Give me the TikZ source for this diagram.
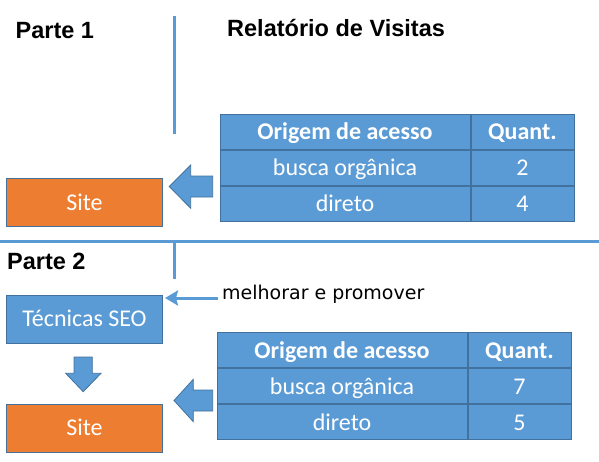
\documentclass[tikz,border=0pt]{standalone}
\usepackage{fontspec}
\setmainfont{Carlito}
\newfontfamily\titlefont{Liberation Sans}
\newfontfamily\notefont{DejaVu Sans}
\usetikzlibrary{arrows.meta}
\definecolor{cblue}{HTML}{5B9BD5}
\definecolor{cedge}{HTML}{41719C}
\definecolor{corange}{HTML}{ED7D31}
\tikzset{
  cellbox/.style={draw=cedge, line width=1pt, fill=cblue, inner sep=0pt, minimum height=35pt,
    text height=15.5pt, text depth=0pt,
    text=white, font=\fontsize{24}{28}\selectfont},
  headcell/.style={cellbox, font=\fontsize{24}{28}\selectfont\bfseries},
  wide/.style={minimum width=250pt},
  narrow/.style={minimum width=103pt},
  bluebox/.style={draw=cedge, line width=1pt, fill=cblue, inner sep=0pt, minimum width=155.5pt,
    minimum height=48pt, text height=15pt, text depth=0pt,
    text=white, font=\fontsize{24}{28}\selectfont},
  orangebox/.style={bluebox, fill=corange},
  title/.style={inner sep=0pt, anchor=west, font=\titlefont\bfseries\fontsize{23.5}{28}\selectfont},
  rule/.style={draw=cblue, line width=3pt},
  blockarrow/.style={draw=cedge, line width=0.8pt, fill=cblue},
}
\begin{document}
\begin{tikzpicture}[x=1pt,y=-1pt]
\useasboundingbox (0,0) rectangle (599,461);

% titles
\node[title] (p1) at (15.5,31) {Parte 1};
\node[title] (rel) at (227,28) {Relatório de Visitas};
\node[title] (p2) at (7,261) {Parte 2};

% rules
\coordinate (v1a) at (174.5,16);
\coordinate (v1b) at (174.5,134);
\coordinate (hl) at (0,241.5);
\coordinate (hr) at (599,241.5);
\coordinate (v2a) at (174.5,241.5);
\coordinate (v2b) at (174.5,279);
\draw[rule] (v1a) -- (v1b);
\draw[rule] (hl) -- (hr);
\draw[rule] (v2a) -- (v2b);

% top table
\node[headcell, wide, anchor=north west] (t1h1) at (219.5,114) {Origem de acesso};
\node[headcell, narrow, anchor=north west] (t1h2) at (t1h1.north east) {Quant.};
\node[cellbox, wide, anchor=north west] (t1a1) at (t1h1.south west) {busca orgânica};
\node[cellbox, narrow, anchor=north west] (t1a2) at (t1a1.north east) {2};
\node[cellbox, wide, anchor=north west] (t1b1) at (t1a1.south west) {direto};
\node[cellbox, narrow, anchor=north west] (t1b2) at (t1b1.north east) {4};

% top site
\node[orangebox] (site1) at (84.5,202.5) {Site};

% top block arrow
\draw[blockarrow] (169.3,186.5) -- (190.7,165) -- (190.7,176) -- (212.7,176) -- (212.7,197)
  -- (190.7,197) -- (190.7,208.3) -- cycle;

% bottom part
\node[bluebox] (seo) at (84.5,319.3) {Técnicas SEO};
\node[orangebox] (site2) at (84.5,428) {Site};

\node[inner sep=0pt, anchor=base west, font=\notefont\fontsize{19}{22}\selectfont] (mel) at (222,299.5) {melhorar e promover};
\coordinate (mstart) at (218,298);
\coordinate (mend) at (165,298);
\draw[draw=cblue, line width=3pt, -{Stealth[length=13pt,width=15pt,inset=2pt]}] (mstart) -- (mend);

% down block arrow
\draw[blockarrow] (74,357) -- (92.3,357) -- (92.3,373.3) -- (101,373.3) -- (83.2,391.7)
  -- (65.7,373.3) -- (74,373.3) -- cycle;

% bottom table
\node[headcell, wide, anchor=north west] (t2h1) at (216.5,332.3) {Origem de acesso};
\node[headcell, narrow, anchor=north west] (t2h2) at (t2h1.north east) {Quant.};
\node[cellbox, wide, anchor=north west] (t2a1) at (t2h1.south west) {busca orgânica};
\node[cellbox, narrow, anchor=north west] (t2a2) at (t2a1.north east) {7};
\node[cellbox, wide, anchor=north west] (t2b1) at (t2a1.south west) {direto};
\node[cellbox, narrow, anchor=north west] (t2b2) at (t2b1.north east) {5};

% bottom block arrow
\draw[blockarrow] (174,400.5) -- (193.3,379.3) -- (193.3,390) -- (212.7,390) -- (212.7,411)
  -- (193.3,411) -- (193.3,421.7) -- cycle;
\end{tikzpicture}
\end{document}
